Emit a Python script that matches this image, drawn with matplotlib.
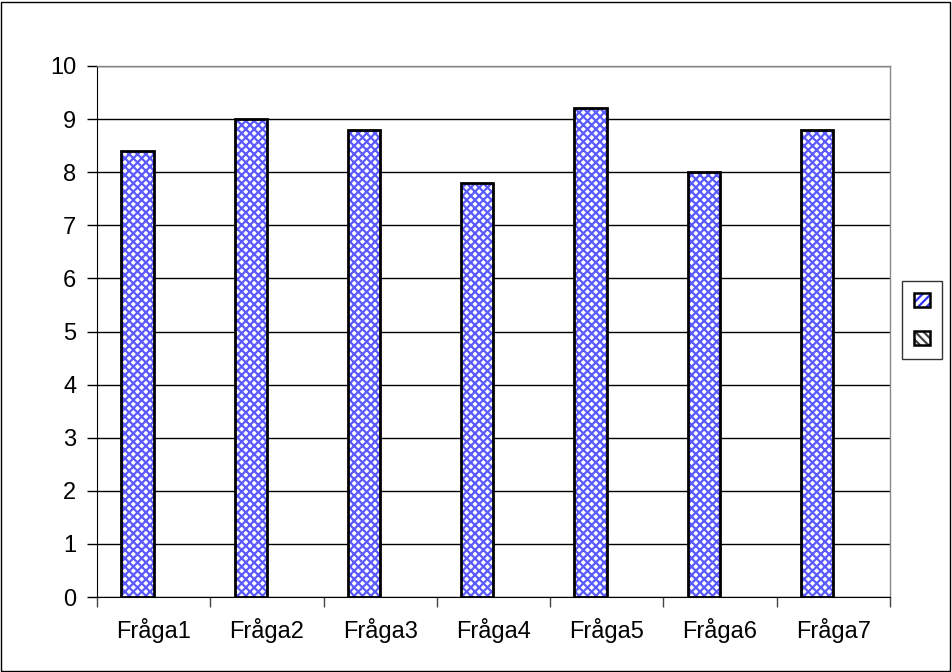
import matplotlib
matplotlib.use("Agg")
import matplotlib.pyplot as plt
import numpy as np
from matplotlib.patches import Patch, Rectangle
from matplotlib.legend_handler import HandlerTuple

categories = ["Fråga1", "Fråga2", "Fråga3", "Fråga4", "Fråga5", "Fråga6", "Fråga7"]
series1 = [8.4, 9.0, 8.8, 7.8, 9.2, 8.0, 8.8]
series2 = [0, 0, 0, 0, 0, 0, 0]
yticks = list(range(0, 11))

plt.rcParams['font.family'] = ['Liberation Sans', 'DejaVu Sans']
plt.rcParams['hatch.linewidth'] = 1.6

fig = plt.figure(figsize=(9.52, 6.72), dpi=100)
W, H = 952, 672
ax = fig.add_axes([97 / W, 1 - 597 / H, (890 - 97) / W, (597 - 66) / H])

x = np.arange(len(categories))
gap = 1.5
bw = 1.0 / (2 + gap)
off1 = -bw / 2
off2 = bw / 2

ax.bar(x + off1, series1, width=bw, facecolor='white', edgecolor='#5a5aff',
       hatch='xxxx', linewidth=0, zorder=3)
ax.bar(x + off1, series1, width=bw, fill=False, edgecolor='black', linewidth=2, zorder=4)
ax.bar(x + off2, series2, width=bw, facecolor='white', edgecolor='#555555',
       hatch='\\\\\\\\', linewidth=0, zorder=3)

ax.set_xlim(-0.5, len(categories) - 0.5)
ax.set_ylim(0, 10)
ax.set_yticks(yticks)
ax.yaxis.grid(True, color='black', linewidth=1)
ax.set_axisbelow(True)
ax.set_xticks(x)
ax.set_xticklabels(categories)
ax.set_xticks(np.arange(-0.5, len(categories)), minor=True)
ax.tick_params(axis='x', which='major', length=0, pad=15, labelsize=17)
ax.tick_params(axis='x', which='minor', length=7, width=1, direction='out', color='#444444')
ax.tick_params(axis='y', length=7, width=1, direction='out', labelsize=17, pad=8)

for side in ['top', 'right']:
    ax.spines[side].set_color('#888888')
    ax.spines[side].set_linewidth(1)
ax.spines['left'].set_color('black')
ax.spines['bottom'].set_color('black')

# chart border
fig.patches.append(Rectangle((1 / W, 1 / H), 949 / W, 669 / H, transform=fig.transFigure,
                             fill=False, edgecolor='black', linewidth=1))

h1 = (Patch(facecolor='white', edgecolor='#3333ff', hatch='////', linewidth=0),
      Patch(fill=False, edgecolor='black', linewidth=1.8))
h2 = (Patch(facecolor='white', edgecolor='#444444', hatch='\\\\\\\\', linewidth=0),
      Patch(fill=False, edgecolor='black', linewidth=1.8))
leg = fig.legend([h1, h2], ['', ''], loc='center', bbox_to_anchor=(922 / W, 1 - 320 / H),
                 handler_map={tuple: HandlerTuple(ndivide=1, pad=0)},
                 frameon=True, fancybox=False, edgecolor='black', handlelength=1.0,
                 handleheight=1.0, handletextpad=0.0, labelspacing=1.5, borderpad=0.8,
                 borderaxespad=0, fontsize=11)
leg.get_frame().set_linewidth(1)

fig.savefig("out.png", dpi=100)
